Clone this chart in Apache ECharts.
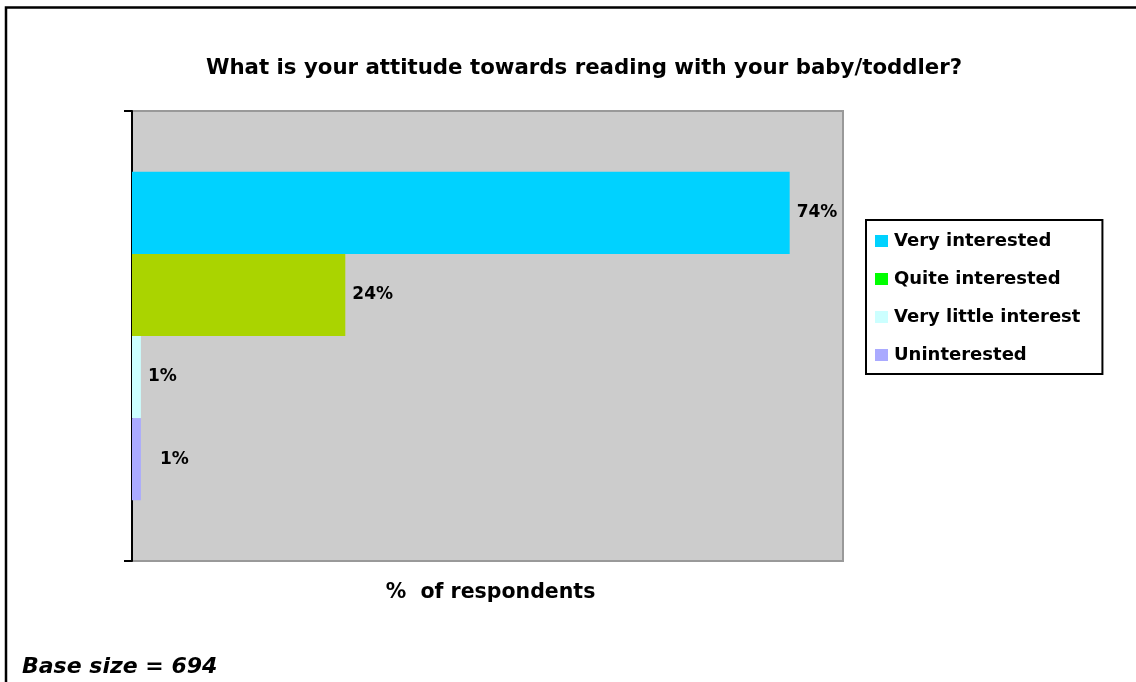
<!DOCTYPE html>
<html>
<head>
<meta charset="utf-8">
<title>Attitude towards reading with baby/toddler</title>
<script src="https://cdn.jsdelivr.net/npm/echarts@6/dist/echarts.min.js"></script>
<style>
  html, body { margin: 0; padding: 0; background: #ffffff; }
  #chart { width: 1136px; height: 682px; }
</style>
</head>
<body>
<div id="chart"></div>
<script>
// Survey answers: share of respondents per attitude
const categories = ['Attitude'];
const seriesNames = ['Very interested', 'Quite interested', 'Very little interest', 'Uninterested'];
const values = [74, 24, 1, 1];
const axisMin = 0;
const axisMax = 80;

// Palette: bar fill and legend swatch (the legend swatch for "Quite interested" is a brighter green)
const barColors = ['#00D2FF', '#AAD400', '#CCFFFF', '#AAAAFF'];
const legendColors = ['#00D2FF', '#00FF00', '#CCFFFF', '#AAAAFF'];

const FONT = '"DejaVu Sans", Arial, sans-serif';

const chart = echarts.init(document.getElementById('chart'), null, { renderer: 'canvas' });

const series = seriesNames.map((name, i) => ({
  name: name,
  type: 'bar',
  data: [values[i]],
  barGap: 0,
  barCategoryGap: '27%',
  itemStyle: { color: barColors[i] },
  label: {
    show: true,
    position: 'right',
    distance: i === 3 ? 19 : 7,
    formatter: '{c}%',
    color: '#000',
    fontFamily: FONT,
    fontWeight: 'bold',
    fontSize: 17
  },
  emphasis: { disabled: true }
}));

chart.setOption({
  animation: false,
  backgroundColor: '#ffffff',
  title: {
    text: 'What is your attitude towards reading with your baby/toddler?',
    left: 579,
    top: 53,
    textAlign: 'center',
    textStyle: { fontFamily: FONT, fontWeight: 'bold', fontSize: 21.3, color: '#000' }
  },
  legend: {
    orient: 'vertical',
    left: 866,
    top: 220,
    icon: 'rect',
    itemWidth: 13,
    itemHeight: 12,
    itemGap: 20,
    padding: [12, 22, 10, 9],
    borderColor: '#000',
    borderWidth: 2,
    backgroundColor: '#ffffff',
    selectedMode: false,
    textStyle: { fontFamily: FONT, fontWeight: 'bold', fontSize: 18, lineHeight: 18, color: '#000', padding: [0, 0, 0, 1] },
    data: seriesNames.map((name, i) => ({ name: name, itemStyle: { color: legendColors[i] } }))
  },
  grid: {
    left: 132,
    right: 293,
    top: 111,
    bottom: 121,
    show: true,
    backgroundColor: '#CCCCCC',
    borderColor: '#999999',
    borderWidth: 2
  },
  xAxis: {
    type: 'value',
    min: axisMin,
    max: axisMax,
    name: '%  of respondents',
    nameLocation: 'middle',
    nameGap: 21,
    nameTextStyle: { fontFamily: FONT, fontWeight: 'bold', fontSize: 20.5, color: '#000', padding: [0, 0, 0, 6] },
    axisLine: { show: false },
    axisTick: { show: false },
    axisLabel: { show: false },
    splitLine: { show: false }
  },
  yAxis: {
    type: 'category',
    data: categories,
    inverse: true,
    axisLine: { show: true, lineStyle: { color: '#000', width: 2 } },
    axisTick: { show: true, length: 8, lineStyle: { color: '#000', width: 2 } },
    axisLabel: { show: false },
    splitLine: { show: false }
  },
  series: series,
  graphic: [
    {
      type: 'rect',
      shape: { x: 6, y: 7.5, width: 1200, height: 800 },
      style: { fill: 'none', stroke: '#000', lineWidth: 2.5 },
      silent: true
    },
    {
      type: 'text',
      x: 22,
      y: 667,
      style: {
        text: 'Base size = 694',
        fontFamily: FONT,
        fontWeight: 'bold',
        fontStyle: 'italic',
        fontSize: 22,
        fill: '#000',
        textVerticalAlign: 'middle'
      },
      silent: true
    }
  ]
});
</script>
</body>
</html>
